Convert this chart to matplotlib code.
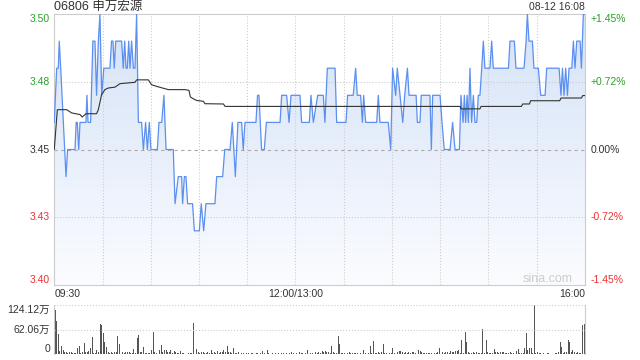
import numpy as np
import matplotlib.pyplot as plt
from matplotlib.colors import LinearSegmentedColormap

plt.rcParams['font.family'] = ['Liberation Sans', 'Noto Sans CJK SC']

# time axis in trading minutes since 09:30 (lunch removed), 330 = 16:00
price_t = [0, 1.5, 2.5, 3.1, 4.0, 7.3, 8.3, 12.9, 13.6, 14.3, 15.2, 16.0, 19.7, 20.3, 21.0,
           22.6, 24.0, 25.3, 26.3, 27.4, 28.4, 29.5, 30.8, 34.6, 35.6, 36.5, 37.3, 38.2, 41.9,
           42.9, 43.8, 44.6, 45.4, 46.3, 47.1, 48.1, 49.2, 50.2, 51.2, 52.3, 54.3, 55.4, 56.8,
           57.9, 59.1, 60.1, 64.1, 65.1, 66.8, 68.2, 69.5, 74.0, 75.1, 77.1, 79.2, 79.8, 80.9,
           81.9, 82.9, 86.0, 87.1, 90.2, 91.4, 92.9, 94.3, 99.9, 101.0, 104.7, 106.0, 109.3,
           110.7, 112.6, 114.2, 116.5, 117.5, 118.6, 125.4, 126.4, 127.3, 128.9, 130.6, 131.9,
           140.4, 141.4, 144.5, 146.0, 147.2, 152.8, 153.8, 158.6, 159.6, 161.1, 163.8, 167.3,
           168.3, 169.8, 174.6, 175.6, 181.4, 182.4, 185.9, 187.4, 188.4, 190.5, 191.6, 192.4,
           193.6, 200.5, 201.5, 202.5, 207.7, 209.2, 210.4, 212.3, 213.3, 215.0, 216.7, 217.9,
           219.6, 220.6, 225.0, 225.8, 227.4, 228.2, 233.6, 234.5, 235.3, 239.9, 241.1, 242.5,
           246.1, 247.7, 249.2, 251.9, 252.9, 254.2, 255.0, 255.8, 256.7, 257.5, 258.5, 259.5,
           260.6, 261.6, 262.7, 263.7, 264.7, 265.8, 266.8, 267.8, 270.9, 272.0, 273.0, 282.4,
           283.4, 286.1, 287.1, 292.1, 293.4, 294.2, 295.2, 297.3, 298.3, 301.0, 302.5, 305.2,
           306.2, 313.9, 315.1, 316.0, 317.0, 318.0, 319.1, 320.1, 321.8, 322.8, 323.8, 324.9,
           327.0, 327.8, 329.0, 330.0]
price_v = [3.46, 3.48, 3.48, 3.49, 3.48, 3.44, 3.45, 3.45, 3.46, 3.46, 3.45, 3.46, 3.46, 3.47, 3.46,
           3.46, 3.49, 3.49, 3.47, 3.49, 3.50, 3.47, 3.48, 3.48, 3.49, 3.49, 3.48, 3.49, 3.49,
           3.48, 3.49, 3.48, 3.48, 3.49, 3.48, 3.49, 3.48, 3.48, 3.50, 3.46, 3.46, 3.45, 3.46,
           3.45, 3.46, 3.45, 3.45, 3.46, 3.46, 3.47, 3.45, 3.45, 3.43, 3.44, 3.44, 3.43, 3.44,
           3.44, 3.43, 3.43, 3.42, 3.42, 3.43, 3.42, 3.43, 3.43, 3.44, 3.44, 3.45, 3.45,
           3.46, 3.44, 3.46, 3.46, 3.45, 3.46, 3.46, 3.47, 3.47, 3.45, 3.45, 3.46,
           3.46, 3.47, 3.47, 3.46, 3.47, 3.47, 3.46, 3.46, 3.47, 3.46, 3.47, 3.47,
           3.46, 3.48, 3.48, 3.46, 3.46, 3.47, 3.47, 3.48, 3.47, 3.47, 3.46, 3.47,
           3.46, 3.46, 3.47, 3.46, 3.46, 3.45, 3.48, 3.47, 3.48, 3.47, 3.46, 3.47,
           3.48, 3.47, 3.47, 3.46, 3.46, 3.47, 3.47, 3.45, 3.47, 3.47, 3.46, 3.45,
           3.45, 3.46, 3.45, 3.45, 3.47, 3.46, 3.47, 3.46, 3.47, 3.46, 3.48, 3.46,
           3.47, 3.46, 3.46, 3.47, 3.47, 3.48, 3.49, 3.48, 3.48, 3.49, 3.48, 3.48,
           3.49, 3.49, 3.48, 3.48, 3.49, 3.50, 3.49, 3.49, 3.48, 3.48, 3.47, 3.47,
           3.48, 3.48, 3.47, 3.48, 3.47, 3.48, 3.47, 3.48, 3.48, 3.49, 3.48, 3.49,
           3.49, 3.48, 3.50, 3.50]

avg_t = [0, 1.9, 7.7, 10.8, 16.0, 17.4, 19.7, 26.3, 27.4, 29.4, 31.5, 33.6, 37.7, 40.9, 50.2,
         51.2, 58.5, 60.5, 63.6, 70.9, 81.3, 83.8, 84.6, 86.5, 88.5, 92.7, 93.7, 105.2, 106.2,
         252.3, 252.9, 264.7, 265.4, 290.5, 291.3, 295.5, 296.2, 314.3, 315.1, 327.8, 328.6, 330]
avg_v = [3.450, 3.4647, 3.4647, 3.4635, 3.4629, 3.4620, 3.4632, 3.4632, 3.4647, 3.4702, 3.4721,
         3.4727, 3.4730, 3.4743, 3.4748, 3.4757, 3.4757, 3.4739, 3.4733, 3.4721, 3.4721, 3.4718,
         3.4694, 3.4687, 3.4681, 3.4678, 3.4669, 3.4668, 3.4659, 3.4659, 3.4650, 3.4650, 3.4659,
         3.4659, 3.4668, 3.4668, 3.4680, 3.4680, 3.4690, 3.4690, 3.4699, 3.4699]

# volume per minute, in 万 shares
volume = [112, 84, 51, 8, 21, 12, 5, 7, 4, 6, 6, 2.5, 4, 3, 17,
          21, 4, 5, 29, 7, 5, 9, 17, 44, 4, 2.5, 11, 5, 77, 73,
          54, 32, 19, 7, 4, 5, 2.5, 7, 7, 46, 26, 15, 6, 2.5, 5,
          5, 5, 4, 4, 13, 2.5, 42, 48, 5, 5, 18, 4, 4, 4, 4,
          11, 56, 6, 4, 19, 11, 24, 7, 11, 11, 5, 7, 11, 4, 8,
          5, 4, 4, 9, 2.5, 4, 2, 2, 2.5, 4, 3, 79, 12, 13, 7,
          4, 7, 5, 4, 4, 6, 3, 11, 4, 5, 4, 9, 4, 5, 6,
          11, 5, 21, 7, 5, 4, 15, 4, 4, 5, 6, 3, 3, 2, 3,
          3, 2, 4, 3, 2, 3, 4, 2, 3, 9, 3, 2, 11, 3, 2,
          3, 2, 4, 2, 3, 2, 3, 4, 2, 3, 2, 4, 7, 3, 2,
          3, 2, 7, 3, 4, 2, 3, 11, 2, 3, 4, 2, 7, 3, 7,
          2.5, 9, 6, 8, 6, 7, 3, 21, 5, 4, 3, 47, 27, 3, 3,
          3, 2, 3, 7, 3, 4, 3, 4, 3, 5, 3, 2, 11, 3, 2,
          3, 21, 4, 34, 3, 4, 5, 3, 7, 27, 3, 3, 2, 3, 3,
          15, 3, 42, 7, 8, 8, 7, 4, 5, 3, 7, 3, 5, 6, 4,
          2, 11, 9, 7, 3, 4, 3, 3, 4, 3, 5, 4, 3, 7, 15,
          2, 5, 3, 7, 7, 3, 8, 6, 7, 9, 9, 12, 4, 36, 4,
          57, 31, 6, 4, 3, 5, 3, 5, 3, 4, 4, 63, 4, 36, 7,
          4, 3, 4, 13, 5, 7, 3, 5, 5, 5, 4, 3, 4, 5, 3,
          4, 8, 9, 13, 4, 4, 3, 15, 54, 12, 15, 17, 3, 124.12, 4,
          5, 4, 3, 2, 3, 2, 3, 3, 2, 3, 2, 3, 4, 7, 32,
          19, 4, 7, 7, 36, 32, 5, 11, 7, 4, 5, 3, 4, 73, 76]

price_ticks = [3.50, 3.475, 3.45, 3.425, 3.40]
price_labels = ['3.50', '3.48', '3.45', '3.43', '3.40']
pct_labels = ['+1.45%', '+0.72%', '0.00%', '-0.72%', '-1.45%']
label_colors = ['#2ca02c', '#2ca02c', '#333333', '#f03030', '#f03030']
time_ticks = [0, 150, 330]
time_labels = ['09:30', '12:00/13:00', '16:00']
vol_ticks = [0, 62.06, 124.12]
vol_labels = ['0', '62.06万', '124.12万']

fig = plt.figure(figsize=(6.4, 3.6), dpi=100)
ax = fig.add_axes([0.0848, 0.2083, 0.8292, 0.7528])
axv = fig.add_axes([0.0848, 0.0156, 0.8292, 0.138])

# gradient fill under the price line
cmap = LinearSegmentedColormap.from_list('bg', ['#fbfcff', '#d4e2f7'])
grad = np.linspace(0, 1, 256).reshape(-1, 1)
poly = ax.fill_between(price_t, price_v, 3.40, facecolor='none', edgecolor='none')
img = ax.imshow(grad, extent=[0, 330, 3.40, 3.50], origin='lower', aspect='auto', cmap=cmap, zorder=0)
img.set_clip_path(poly.get_paths()[0], transform=ax.transData)

ax.plot(price_t, price_v, color='#5b8ff0', lw=0.9, zorder=3)
ax.plot(avg_t, avg_v, color='#333333', lw=0.8, zorder=4)

for y in [3.475, 3.425]:
    ax.axhline(y, color='#cccccc', lw=0.8, ls=':', zorder=1)
ax.axhline(3.45, color='#aaaaaa', lw=0.8, ls=(0, (3, 3)), zorder=1)
for x in range(30, 330, 30):
    ax.axvline(x, color='#cccccc', lw=0.8, ls=':', zorder=1)

ax.set_xlim(0, 330)
ax.set_ylim(3.40, 3.50)
for s in ax.spines.values():
    s.set_color('#cccccc')

ax.set_yticks(price_ticks)
ax.set_yticklabels(price_labels)
ax.tick_params(axis='y', length=0, pad=3, labelsize=7.5)
ax.set_xticks(time_ticks)
ax.set_xticklabels(time_labels)
ax.tick_params(axis='x', length=0, pad=3, labelsize=7.5, labelcolor='#333333')
for lab, ha in zip(ax.get_xticklabels(), ['left', 'center', 'right']):
    lab.set_ha(ha)

ax2 = ax.twinx()
ax2.set_ylim(3.40, 3.50)
ax2.set_yticks(price_ticks)
ax2.set_yticklabels(pct_labels)
ax2.tick_params(axis='y', length=0, pad=4, labelsize=7.5)
for s in ax2.spines.values():
    s.set_visible(False)

vas = ['top', 'center', 'center', 'center', 'bottom']
for labs in [ax.get_yticklabels(), ax2.get_yticklabels()]:
    for lab, c, va in zip(labs, label_colors, vas):
        lab.set_color(c)
        lab.set_va(va)

ax.text(0.0, 1.027, '06806 申万宏源', transform=ax.transAxes, fontsize=9, color='#333333',
        va='center', ha='left')
ax.text(1.0, 1.027, '08-12 16:08', transform=ax.transAxes, fontsize=7.5, color='#333333',
        va='center', ha='right')
ax.text(0.977, 0.0, 'sina.com', transform=ax.transAxes, fontsize=9, color='#cccccc',
        va='bottom', ha='right')

# volume
axv.bar(np.arange(len(volume)) + 0.5, volume, width=0.6, color='#555555')
axv.set_xlim(0, 330)
axv.set_ylim(0, 124.12)
axv.axhline(62.06, color='#cccccc', lw=0.8, ls=':')
axv.axhline(124.12, color='#cccccc', lw=0.8, ls=':')
axv.set_xticks([])
axv.set_yticks(vol_ticks)
axv.set_yticklabels(vol_labels)
axv.tick_params(axis='y', length=0, pad=3, labelsize=7.5, labelcolor='#333333')
for lab, va in zip(axv.get_yticklabels(), ['bottom', 'center', 'top']):
    lab.set_va(va)
axv.spines['top'].set_visible(False)
axv.spines['bottom'].set_visible(False)
axv.spines['left'].set_color('#cccccc')
axv.spines['right'].set_color('#cccccc')

fig.savefig('out.png', dpi=100)
